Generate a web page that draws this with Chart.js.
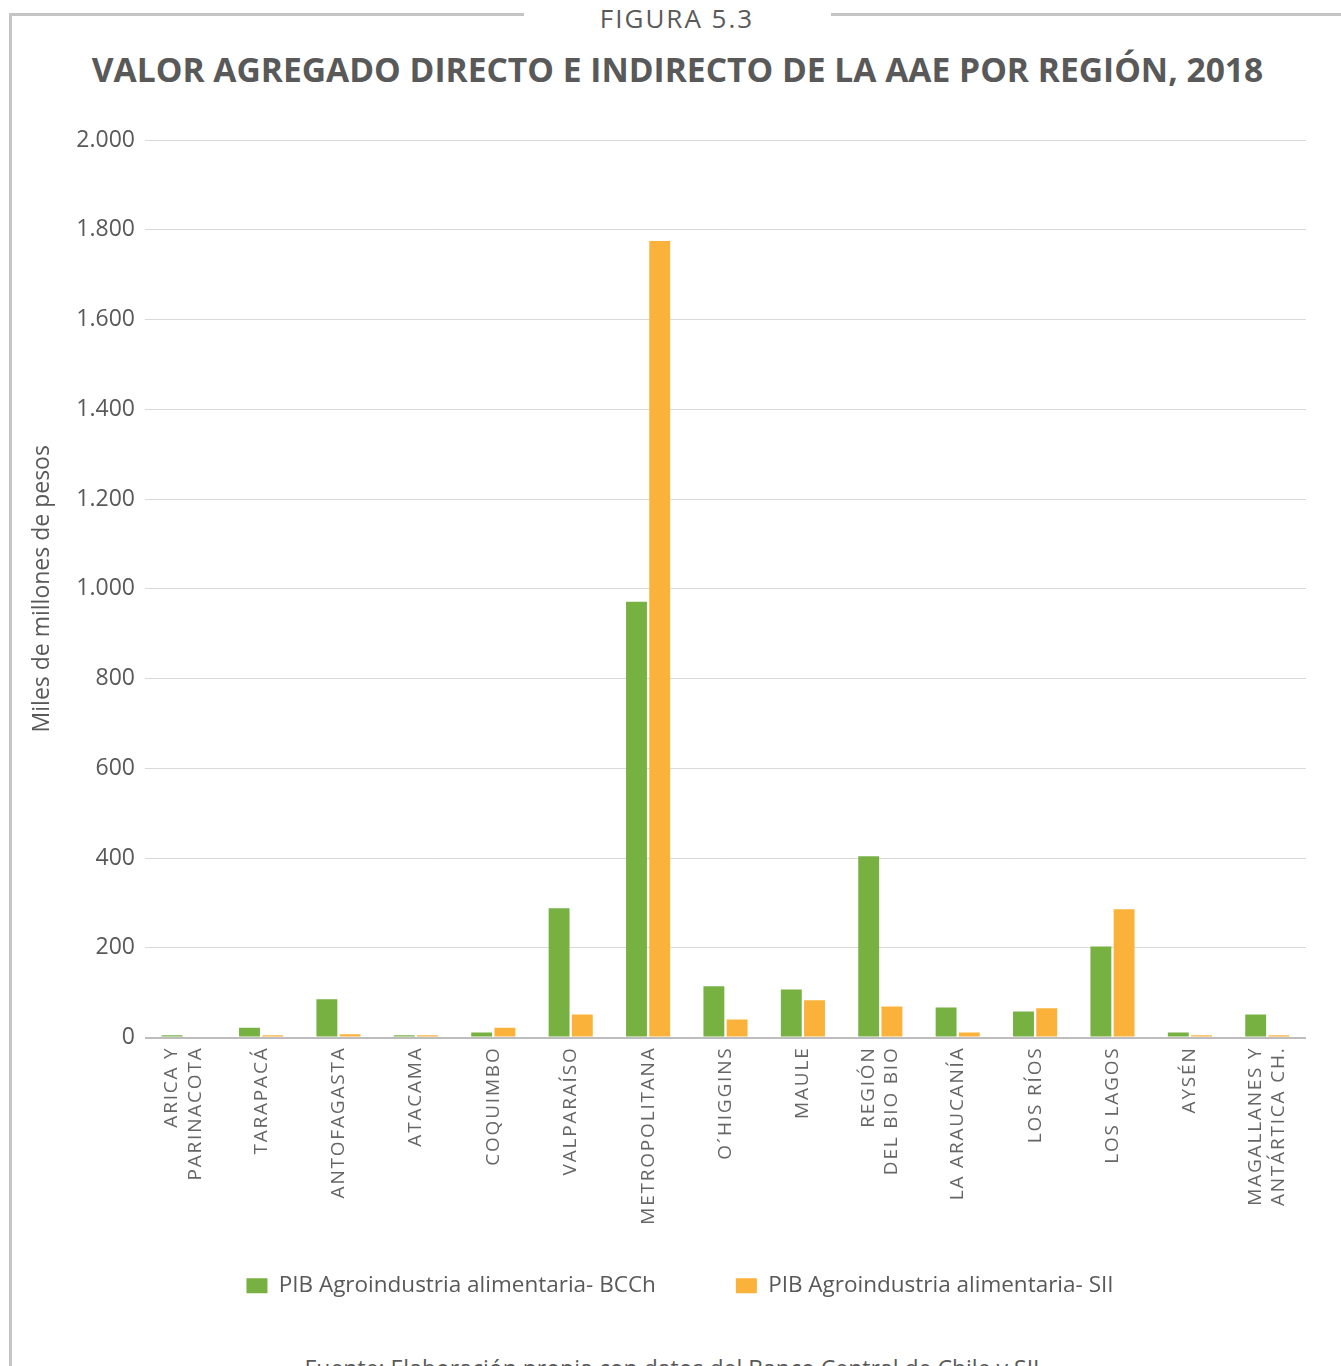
<!DOCTYPE html>
<html lang="es">
<head>
<meta charset="utf-8">
<title>Figura 5.3</title>
<script src="https://cdn.jsdelivr.net/npm/chart.js@4.4.1/dist/chart.umd.min.js"></script>
<style>
    html, body { margin: 0; padding: 0; background: #fff; }
    body { width: 1341px; height: 1366px; position: relative; overflow: hidden; font-family: "Open Sans", sans-serif; color: #595959; }
    .rule { position: absolute; background: #c4c4c4; }
    #figLabel { position: absolute; top: 0px; left: 0; width: 1354px; text-align: center; font-size: 26px; letter-spacing: 2px; color: #595959; }
    #title { position: absolute; top: 46px; left: 0; width: 1355px; text-align: center; font-size: 33.6px; font-weight: 700; color: #595959; white-space: nowrap; }
    #chartBox { position: absolute; left: 20px; top: 100px; }
    #source { position: absolute; top: 1352px; left: 0; width: 1350px; text-align: center; font-size: 23px; color: #595959; white-space: nowrap; }
</style>
</head>
<body>
<div class="rule" style="left:10px; top:13px; width:514px; height:3px;"></div>
<div class="rule" style="left:831px; top:13px; width:510px; height:3px;"></div>
<div class="rule" style="left:9px; top:13px; width:3px; height:1360px;"></div>
<div id="figLabel">FIGURA 5.3</div>
<div id="title">VALOR AGREGADO DIRECTO E INDIRECTO DE LA AAE POR REGIÓN, 2018</div>
<div id="chartBox"><canvas id="regionChart" width="1310" height="1235"></canvas></div>
<div id="source">Fuente: Elaboración propia con datos del Banco Central de Chile y SII.</div>

<script>
// Regiones (etiquetas en dos líneas donde corresponde)
const regiones = [
    ['ARICA Y', 'PARINACOTA'],
    'TARAPACÁ',
    'ANTOFAGASTA',
    'ATACAMA',
    'COQUIMBO',
    'VALPARAÍSO',
    'METROPOLITANA',
    'O´HIGGINS',
    'MAULE',
    ['REGIÓN', 'DEL BIO BIO'],
    'LA ARAUCANÍA',
    'LOS RÍOS',
    'LOS LAGOS',
    'AYSÉN',
    ['MAGALLANES Y', 'ANTÁRTICA CH.']
];

// Miles de millones de pesos
const pibBCCh = [5, 22, 85, 5, 11, 288, 971, 114, 107, 404, 67, 58, 203, 11, 51];
const pibSII = [0, 5, 7, 5, 22, 51, 1775, 40, 83, 69, 11, 65, 286, 5, 5];

const serieNombres = ['PIB Agroindustria alimentaria- BCCh', 'PIB Agroindustria alimentaria- SII'];
const yTicks = [0, 200, 400, 600, 800, 1000, 1200, 1400, 1600, 1800, 2000];

const VERDE = '#77B142';
const NARANJA = '#FBB23A';
const GRIS_TEXTO = '#595959';
const X_LINE_HEIGHT = 23.5;

// Formato con punto de miles: 2000 -> 2.000
function formatMiles(v) {
    return String(v).replace(/\B(?=(\d{3})+(?!\d))/g, '.');
}

// Etiquetas del eje X: espaciado de letras, sin recorte y líneas centradas en la categoría
function patchXLabels(scale) {
    if (scale._patched) return;
    scale._patched = true;

    scale._computeLabelArea = function() { return undefined; };

    const origDraw = scale.drawLabels.bind(scale);
    scale.drawLabels = function(area) {
        const ctx = this.ctx;
        ctx.save();
        ctx.letterSpacing = '1.8px';
        origDraw(area);
        ctx.restore();
    };

    const origItems = scale._computeLabelItems.bind(scale);
    scale._computeLabelItems = function(area) {
        const items = origItems(area);
        items.forEach(it => {
            if (Array.isArray(it.label) && it.label.length > 1) {
                it.options.translation[0] -= X_LINE_HEIGHT * (it.label.length - 1) / 2;
            }
        });
        return items;
    };
}

const ctx = document.getElementById('regionChart').getContext('2d');

new Chart(ctx, {
    type: 'bar',
    data: {
        labels: regiones,
        datasets: [
            {
                label: serieNombres[0],
                data: pibBCCh,
                backgroundColor: VERDE,
                borderWidth: 0
            },
            {
                label: serieNombres[1],
                data: pibSII,
                backgroundColor: NARANJA,
                borderWidth: 0
            }
        ]
    },
    options: {
        responsive: false,
        devicePixelRatio: 1,
        animation: false,
        layout: {
            // padding izquierdo para centrar la leyenda bajo el gráfico
            padding: { top: 40, right: 24, bottom: 28, left: 34 }
        },
        datasets: {
            bar: {
                categoryPercentage: 0.6,
                barPercentage: 0.9
            }
        },
        plugins: {
            legend: {
                position: 'bottom',
                labels: {
                    color: GRIS_TEXTO,
                    font: { family: 'Open Sans', size: 22.5 },
                    boxWidth: 21,
                    boxHeight: 15,
                    padding: 80
                }
            },
            tooltip: { enabled: false }
        },
        scales: {
            x: {
                grid: { display: false },
                border: { display: false },
                ticks: {
                    color: '#666666',
                    font: { family: 'Open Sans', size: 19, lineHeight: X_LINE_HEIGHT / 19 },
                    minRotation: 90,
                    maxRotation: 90,
                    padding: 1,
                    autoSkip: false
                },
                afterFit: function(scale) {
                    scale.height = 157;
                    patchXLabels(scale);
                }
            },
            y: {
                min: 0,
                max: 2000,
                border: { display: false },
                afterBuildTicks: function(scale) {
                    scale.ticks = yTicks.map(v => ({ value: v }));
                },
                ticks: {
                    color: GRIS_TEXTO,
                    font: { family: 'Open Sans', size: 23 },
                    padding: 10,
                    callback: function(value) {
                        return formatMiles(value);
                    }
                },
                grid: {
                    drawTicks: false,
                    color: function(c) {
                        return c.tick && c.tick.value === 0 ? '#bdbdbd' : '#d9d9d9';
                    },
                    lineWidth: function(c) {
                        return c.tick && c.tick.value === 0 ? 2 : 1;
                    }
                },
                title: {
                    display: true,
                    text: 'Miles de millones de pesos',
                    color: GRIS_TEXTO,
                    font: { family: 'Open Sans', size: 23 },
                    padding: { top: -25, bottom: 0 }
                },
                afterFit: function(scale) {
                    scale.width = 91;
                }
            }
        }
    }
});
</script>
</body>
</html>
